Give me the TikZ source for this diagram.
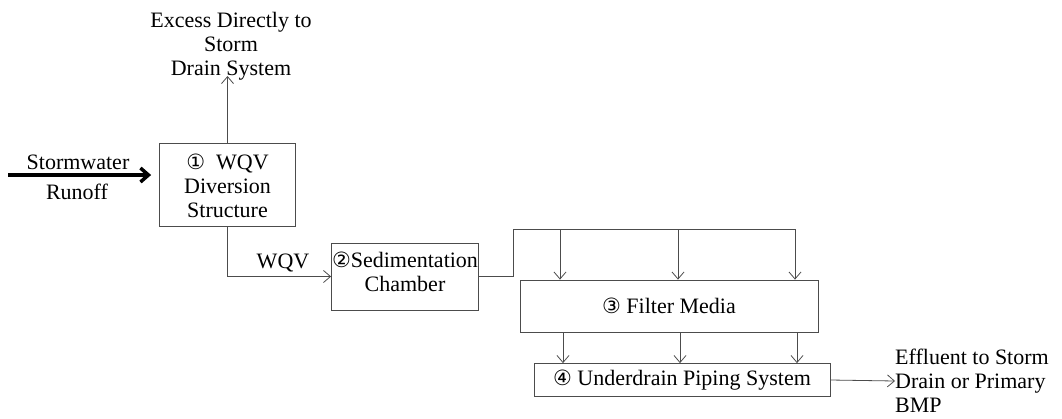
\documentclass[tikz,border=0pt]{standalone}
\usepackage{fontspec}
\setmainfont{Liberation Serif}
\newfontfamily\circfont{DejaVu Sans}
\usetikzlibrary{arrows.meta}
\newcommand{\cnum}[1]{{\circfont\fontsize{21}{21}\selectfont #1}}
\begin{document}
\begin{tikzpicture}[x=1pt,y=-1pt,
  box/.style={draw=black!70, line width=0.8pt, inner sep=0pt},
  lbl/.style={font=\fontsize{22}{24}\selectfont, inner sep=0pt, align=center},
  flow/.style={draw=black!70, line width=0.8pt, -{Straight Barb[length=7pt,width=12pt]}},
  line/.style={draw=black!70, line width=0.8pt},
  bigflow/.style={draw=black, line width=3.5pt, -{Straight Barb[length=8pt,width=14pt]}}]
\useasboundingbox (0,0) rectangle (1062,418);
% boxes
\node[box, minimum width=136pt, minimum height=83pt] (b1) at (227.5,184.5) {};
\node[box, minimum width=147pt, minimum height=67pt] (b2) at (405,276.5) {};
\node[box, minimum width=298pt, minimum height=52pt, lbl] (b3) at (669,306) {\cnum{③} Filter Media};
\node[box, minimum width=296pt, minimum height=33pt, lbl] (b4) at (682,380) {\cnum{④} Underdrain Piping System};
% texts
\node[lbl] (t1) at (227.5,186) {\cnum{①}\ \ WQV\\Diversion\\Structure};
\node[lbl] (t2) at (405,272) {\cnum{②}Sedimentation\\Chamber};
\node[lbl] (exc) at (231,46) {Excess Directly to\\Storm\\Drain System};
\node[lbl] (swt) at (78,162) {Stormwater};
\node[lbl] (ro) at (77,192) {Runoff};
\node[lbl] (wqv) at (283,263) {WQV};
\node[lbl, align=left, anchor=west] (eff) at (895,381) {Effluent to Storm\\Drain or Primary\\BMP};
% coordinates
\coordinate (sw) at (8,175);
\coordinate (up) at (227.5,76);
\coordinate (j0) at (513,0);
\coordinate (j1) at (513,229);
\coordinate (j2) at (795,229);
\coordinate (a1) at (560,229);
\coordinate (a2) at (678,229);
\coordinate (a3) at (795,229);
\coordinate (c1) at (563,0);
\coordinate (c2) at (680,0);
\coordinate (c3) at (797,0);
% connectors
\draw[bigflow, shorten >=8pt] (sw) -- (sw -| b1.west);
\draw[flow] (b1.north) -- (up);
\draw[flow] (b1.south) |- (b2.west);
\draw[line] (b2.east) -- (b2.east -| j0) -- (j1) -- (j2);
\draw[flow] (a1) -- (a1 |- b3.north);
\draw[flow] (a2) -- (a2 |- b3.north);
\draw[flow] (a3) -- (a3 |- b3.north);
\draw[flow] (b3.south -| c1) -- (c1 |- b4.north);
\draw[flow] (b3.south -| c2) -- (c2 |- b4.north);
\draw[flow] (b3.south -| c3) -- (c3 |- b4.north);
\draw[flow] (b4.east) -- (eff.west);
\end{tikzpicture}
\end{document}
